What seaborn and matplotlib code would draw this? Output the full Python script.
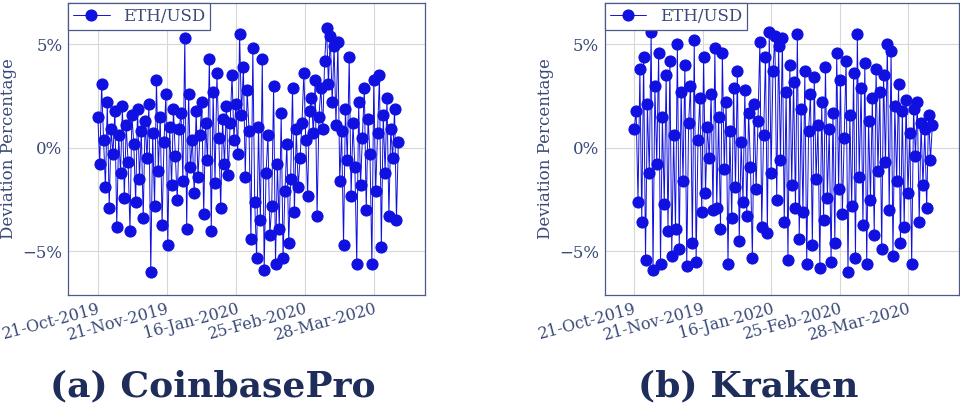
import numpy as np
import pandas as pd
import matplotlib
matplotlib.use("Agg")
import matplotlib.pyplot as plt
import seaborn as sns

tick_labels = ["21-Oct-2019", "21-Nov-2019", "16-Jan-2020", "25-Feb-2020", "28-Mar-2020"]
panel_titles = ["(a) CoinbasePro", "(b) Kraken"]
series_name = "ETH/USD"

coinbase = [1.5,-0.8,3.1,0.4,-1.9,2.2,-2.9,0.9,-0.3,1.8,-3.8,0.6,-1.2,2.0,-2.4,1.1,-0.7,-4.0,1.6,0.2,
            -2.6,1.9,-1.5,0.8,-3.4,1.3,-0.5,2.1,-6.0,0.7,-2.8,3.3,-1.1,1.5,-3.7,0.3,2.6,-4.7,1.0,-1.8,
            1.9,-0.4,-2.5,0.9,1.7,-1.6,5.3,-3.9,2.6,-0.9,0.4,-2.2,1.8,-1.4,0.6,2.2,-3.2,1.2,-0.6,4.3,
            -4.0,2.7,-1.7,3.6,0.5,-2.9,1.4,-0.8,2.0,-1.3,
            1.2,3.5,0.4,2.1,-0.3,5.5,1.6,3.9,-1.4,2.8,0.8,
            -4.4,4.8,-2.6,-5.3,1.0,-3.5,4.3,-5.9,-1.2,0.6,-4.2,-2.8,3.0,-5.6,-0.8,-3.9,1.7,-5.3,-2.1,0.2,
            -4.6,-1.5,2.9,-3.1,0.9,-1.9,
            -0.5,1.2,3.6,0.4,-2.3,1.8,2.4,0.7,3.3,-3.3,1.5,2.9,0.9,4.2,5.8,3.1,5.4,2.2,4.9,1.1,
            5.1,-1.6,0.8,-4.7,1.9,-0.6,4.4,-2.3,1.2,-0.9,-5.6,2.2,-1.8,0.5,2.9,-3.0,1.4,-0.3,-5.6,3.3,
            -2.1,0.7,3.5,-4.8,1.6,-1.2,2.4,-3.3,0.9,-0.5,1.9,-3.5,0.3]

kraken = [0.9,1.8,-2.6,3.8,-3.6,4.4,-5.4,2.1,-1.2,5.6,-5.9,3.0,-0.8,4.6,-5.6,1.5,-2.7,3.5,-4.0,4.2,
          -5.2,0.6,-3.9,5.0,-4.9,2.7,-1.6,4.0,-5.7,1.2,3.0,-4.6,5.2,-5.5,0.4,2.4,-3.1,4.4,-2.2,1.0,
          -0.5,2.6,-3.0,4.8,-2.9,1.5,-3.9,4.6,-1.0,2.2,-5.6,0.8,-3.4,2.9,-1.9,3.7,-4.5,0.3,-2.6,2.8,
          -3.3,1.7,-0.9,-5.3,2.1,-2.0,1.3,5.1,-3.8,0.6,
          4.4,-4.1,5.6,-1.2,3.7,5.4,-2.5,4.9,-0.6,5.3,-3.6,2.7,-5.4,4.0,-1.8,3.2,-2.9,5.5,-4.4,1.9,
          -3.1,3.7,-5.6,0.8,2.6,-4.7,3.4,-1.5,1.1,-5.8,
          2.2,-3.5,3.9,-2.4,0.9,-5.5,1.7,-4.6,4.6,-2.0,3.3,-3.2,0.5,4.2,-6.0,1.6,-2.8,3.6,-5.3,5.5,
          -1.4,2.9,-3.7,4.1,-5.6,1.3,-2.5,2.4,-4.2,3.8,
          -1.1,2.7,-4.9,3.5,-0.7,5.0,-3.0,4.7,-5.2,2.0,-1.6,3.1,-4.6,1.8,-3.8,2.3,-2.2,0.7,-5.6,1.9,
          -0.4,2.2,-3.6,1.2,-1.8,0.9,-2.9,1.6,-0.6,1.1]

data_span = 4.35  # in tick-spacing units

sns.set_theme(style="whitegrid")
plt.rcParams['font.family'] = ['DejaVu Serif']

frame_c = "#4a5a8a"
text_c = "#3a4a78"
blue = "#1010e0"

fig = plt.figure(figsize=(9.6, 4.12), dpi=100)
axes = [fig.add_axes([0.071, 0.284, 0.372, 0.709]),
        fig.add_axes([0.630, 0.284, 0.369, 0.709])]

for ax, vals, title in zip(axes, [coinbase, kraken], panel_titles):
    df = pd.DataFrame({"x": np.linspace(0, data_span, len(vals)), "y": vals})
    sns.lineplot(data=df, x="x", y="y", ax=ax, color=blue, marker="o", markersize=8,
                 markeredgecolor=blue, linewidth=0.7, label=series_name)
    ax.set_xlim(-0.43, 4.74)
    ax.set_ylim(-7.1, 7.0)
    ax.set_xticks(range(len(tick_labels)))
    ax.set_xticklabels(tick_labels, rotation=15, ha="right", rotation_mode="anchor",
                       color=text_c, fontsize=11.5)
    ax.set_yticks([-5, 0, 5])
    ax.set_yticklabels(["\u22125%", "0%", "5%"], color=text_c, fontsize=12)
    ax.set_xlabel("")
    ax.set_ylabel("Deviation Percentage", color=text_c, fontsize=12)
    ax.grid(True, color="#d8d8d8", linewidth=0.8)
    ax.set_facecolor("white")
    for s in ax.spines.values():
        s.set_color(frame_c)
        s.set_linewidth(0.9)
    ax.tick_params(axis="both", colors=frame_c, length=0, pad=4, labelcolor=text_c)
    leg = ax.legend(loc="upper left", borderaxespad=0.0, fancybox=False, fontsize=12,
                    handlelength=2.2, borderpad=0.3, labelcolor=text_c)
    leg.get_frame().set_edgecolor(frame_c)
    leg.get_frame().set_linewidth(0.9)
    leg.get_frame().set_alpha(1)
    pos = ax.get_position()
    fig.text((pos.x0 + pos.x1) / 2 - 0.035, 0.062, title, ha="center", va="center",
             fontsize=26, fontweight="bold", color="#1f2d5a")

fig.savefig("out.png", dpi=100)
